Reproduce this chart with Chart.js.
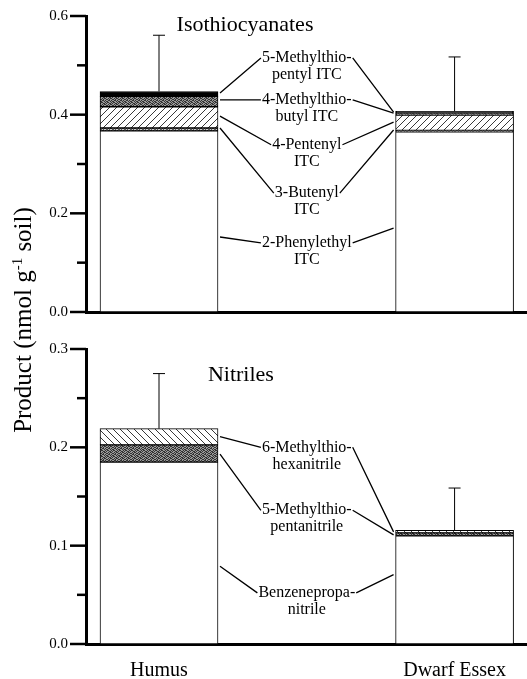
<!DOCTYPE html>
<html><head><meta charset="utf-8">
<script src="https://cdn.jsdelivr.net/npm/chart.js@4.4.0/dist/chart.umd.min.js"></script>
<style>
html,body{margin:0;padding:0;background:#fff;}
#wrap{position:relative;width:527px;height:679px;overflow:hidden;background:#fff;}
canvas{position:absolute;left:0;}
#ytitle{position:absolute;left:23px;top:320px;width:320px;height:30px;margin-left:-160px;margin-top:-15px;transform:rotate(-90deg);text-align:center;font-family:"Liberation Serif","Times New Roman",serif;font-size:25px;line-height:30px;white-space:nowrap;color:#000;}
#ytitle sup{font-size:15px;vertical-align:9px;line-height:0;}
</style></head>
<body><div id="wrap">
<canvas id="topChart" width="527" height="330" style="top:0"></canvas>
<canvas id="botChart" width="527" height="349" style="top:330px"></canvas>
<div id="ytitle">Product (nmol g<sup>-1</sup> soil)</div>
</div>
<script>
// ---- data (nmol g-1 soil), stacked bottom to top ----
const categories = ['Humus', 'Dwarf Essex'];
// Isothiocyanates
const phenylethylITC = [0.367, 0.365];
const butenylITC = [0.006, 0.003];
const pentenylITC = [0.043, 0.031];
const methylthiobutylITC = [0.021, 0.004];
const methylthiopentylITC = [0.010, 0.004];
const itcError = [0.114, 0.110];
// Nitriles
const benzenepropanitrile = [0.185, 0.110];
const methylthiopentanitrile = [0.0175, 0.003];
const methylthiohexanitrile = [0.0165, 0.0026];
const nitrileError = [0.056, 0.043];
// tick labels
const itcTicks = [0.0, 0.2, 0.4, 0.6];
const nitrileTicks = [0.0, 0.1, 0.2, 0.3];

// ---- layout of annotations (data units) ----
const itcNotes = [
  {text: ['5-Methylthio-', 'pentyl ITC'], y: 0.515, a: [0.444, 0.405]},
  {text: ['4-Methylthio-', 'butyl ITC'], y: 0.430, a: [0.430, 0.403]},
  {text: ['4-Pentenyl', 'ITC'], y: 0.339, a: [0.397, 0.385]},
  {text: ['3-Butenyl', 'ITC'], y: 0.241, a: [0.373, 0.369]},
  {text: ['2-Phenylethyl', 'ITC'], y: 0.140, a: [0.152, 0.170]}
];
const nitrileNotes = [
  {text: ['6-Methylthio-', 'hexanitrile'], y: 0.200, a: [0.211, 0.114]},
  {text: ['5-Methylthio-', 'pentanitrile'], y: 0.136, a: [0.193, 0.111]},
  {text: ['Benzenepropa-', 'nitrile'], y: 0.052, a: [0.079, 0.0705]}
];

const FONT = '"Liberation Serif","Times New Roman",serif';
const xPos = categories.map((_, i) => i);
const pts = arr => arr.map((v, i) => ({x: xPos[i], y: v}));

function makeHatch(dir) {
  const s = 7, c = document.createElement('canvas'); c.width = c.height = s;
  const g = c.getContext('2d'); g.fillStyle = '#fff'; g.fillRect(0, 0, s, s);
  g.strokeStyle = '#222'; g.lineWidth = 0.9; g.beginPath();
  if (dir === '/') { g.moveTo(0, s); g.lineTo(s, 0); g.moveTo(-1, 1); g.lineTo(1, -1); g.moveTo(s - 1, s + 1); g.lineTo(s + 1, s - 1); }
  else { g.moveTo(0, 0); g.lineTo(s, s); g.moveTo(s - 1, -1); g.lineTo(s + 1, 1); g.moveTo(-1, s - 1); g.lineTo(1, s + 1); }
  g.stroke(); return g.createPattern(c, 'repeat');
}
function makeStipple(dark, light) {
  const rows = ['100101', '011010', '101100', '010011', '110100', '001011'];
  const c = document.createElement('canvas'); c.width = c.height = 6; const g = c.getContext('2d');
  rows.forEach((r, y) => [...r].forEach((ch, x) => { g.fillStyle = ch === '1' ? dark : light; g.fillRect(x, y, 1, 1); }));
  return g.createPattern(c, 'repeat');
}
const hatchF = makeHatch('/');
const hatchB = makeHatch('\\');
const stippleDark = makeStipple('#333', '#999');
const stippleLight = makeStipple('#555', '#ccc');

function panelPlugin(cfg) {
  return { id: 'panel', afterDatasetsDraw(chart) {
    const ctx = chart.ctx, y = chart.scales.y, x = chart.scales.x, ca = chart.chartArea;
    ctx.save();
    ctx.strokeStyle = '#000'; ctx.fillStyle = '#000';
    // major and minor tick marks
    for (let k = 0; k * cfg.minorStep <= y.max + 1e-9; k++) {
      const v = k * cfg.minorStep, major = k % 2 === 0;
      const py = y.getPixelForValue(v);
      ctx.lineWidth = 2.5; ctx.beginPath(); ctx.moveTo(ca.left - (major ? 16 : 9), py); ctx.lineTo(ca.left, py); ctx.stroke();
    }
    // error bars
    const meta0 = chart.getDatasetMeta(0);
    cfg.errors.forEach((e, i) => {
      let tot = 0; chart.data.datasets.forEach(d => tot += d.data[i].y);
      const px = meta0.data[i].x, y0 = y.getPixelForValue(tot), y1 = y.getPixelForValue(tot + e);
      ctx.lineWidth = 1; ctx.beginPath(); ctx.moveTo(px, y0); ctx.lineTo(px, y1); ctx.moveTo(px - 6, y1); ctx.lineTo(px + 6, y1); ctx.stroke();
    });
    // panel title
    ctx.font = '22px ' + FONT; ctx.textAlign = 'center'; ctx.textBaseline = 'alphabetic';
    ctx.fillText(cfg.title.text, x.getPixelForValue(cfg.title.x), y.getPixelForValue(cfg.title.y));
    // labels with leader lines
    const b0 = meta0.data[0], b1 = meta0.data[1];
    const leftEdge = b0.x + b0.width / 2, rightEdge = b1.x - b1.width / 2;
    ctx.font = '16px ' + FONT; ctx.textBaseline = 'middle';
    const cx = x.getPixelForValue(cfg.noteX);
    cfg.notes.forEach(nt => {
      const cy = y.getPixelForValue(nt.y);
      nt.text.forEach((t, k) => ctx.fillText(t, cx, cy + k * 17));
      const w = ctx.measureText(nt.text[0]).width;
      ctx.lineWidth = 1.3; ctx.beginPath();
      ctx.moveTo(leftEdge + 2, y.getPixelForValue(nt.a[0])); ctx.lineTo(cx - w / 2 - 1, cy);
      ctx.moveTo(cx + w / 2 + 1, cy); ctx.lineTo(rightEdge - 2, y.getPixelForValue(nt.a[1]));
      ctx.stroke();
    });
    ctx.restore();
  }};
}

function scalesFor(ticksArr, showX) {
  const ymax = ticksArr[ticksArr.length - 1];
  return {
    x: {type: 'linear', min: -0.247, max: 1.245, stacked: true, offset: false,
        grid: {display: false, drawTicks: false},
        border: {display: true, width: 3, color: '#000'},
        ticks: {display: showX, autoSkip: false, maxRotation: 0, padding: 15, color: '#000',
                font: {family: FONT, size: 20}, callback: v => categories[v]},
        afterBuildTicks: s => { s.ticks = xPos.map(v => ({value: v})); },
        afterFit: s => { s.height = showX ? 35 : 18; }},
    y: {stacked: true, min: 0, max: ymax,
        ticks: {color: '#000', font: {family: FONT, size: 15}, padding: 2, callback: v => Number(v).toFixed(1)},
        afterBuildTicks: s => { s.ticks = ticksArr.map(v => ({value: v})); },
        grid: {display: false, drawTicks: true, tickLength: 16},
        border: {display: true, width: 3, color: '#000'},
        afterFit: s => { s.width = 86; }}
  };
}
const common = {borderColor: '#000', borderWidth: 1, borderSkipped: false, barThickness: 118};
const baseOpts = {responsive: false, animation: false, events: [],
  plugins: {legend: {display: false}, tooltip: {enabled: false}}};

new Chart(document.getElementById('topChart'), {
  type: 'bar',
  data: {datasets: [
    {label: '2-Phenylethyl ITC', data: pts(phenylethylITC), backgroundColor: '#fff', ...common},
    {label: '3-Butenyl ITC', data: pts(butenylITC), backgroundColor: stippleLight, ...common},
    {label: '4-Pentenyl ITC', data: pts(pentenylITC), backgroundColor: hatchF, ...common},
    {label: '4-Methylthiobutyl ITC', data: pts(methylthiobutylITC), backgroundColor: stippleDark, ...common},
    {label: '5-Methylthiopentyl ITC', data: pts(methylthiopentylITC), backgroundColor: '#000', ...common}
  ]},
  options: {...baseOpts, layout: {padding: {top: 16, left: 0, right: 0, bottom: 0}}, scales: scalesFor(itcTicks, false)},
  plugins: [panelPlugin({minorStep: 0.1, errors: itcError, notes: itcNotes, noteX: 0.5,
    title: {text: 'Isothiocyanates', x: 0.291, y: 0.570}})]
});

new Chart(document.getElementById('botChart'), {
  type: 'bar',
  data: {datasets: [
    {label: 'Benzenepropanitrile', data: pts(benzenepropanitrile), backgroundColor: '#fff', ...common},
    {label: '5-Methylthiopentanitrile', data: pts(methylthiopentanitrile), backgroundColor: stippleDark, ...common},
    {label: '6-Methylthiohexanitrile', data: pts(methylthiohexanitrile), backgroundColor: hatchB, ...common}
  ]},
  options: {...baseOpts, layout: {padding: {top: 19, left: 0, right: 0, bottom: 0}}, scales: scalesFor(nitrileTicks, true)},
  plugins: [panelPlugin({minorStep: 0.05, errors: nitrileError, notes: nitrileNotes, noteX: 0.5,
    title: {text: 'Nitriles', x: 0.277, y: 0.267}})]
});
</script>
</body></html>
